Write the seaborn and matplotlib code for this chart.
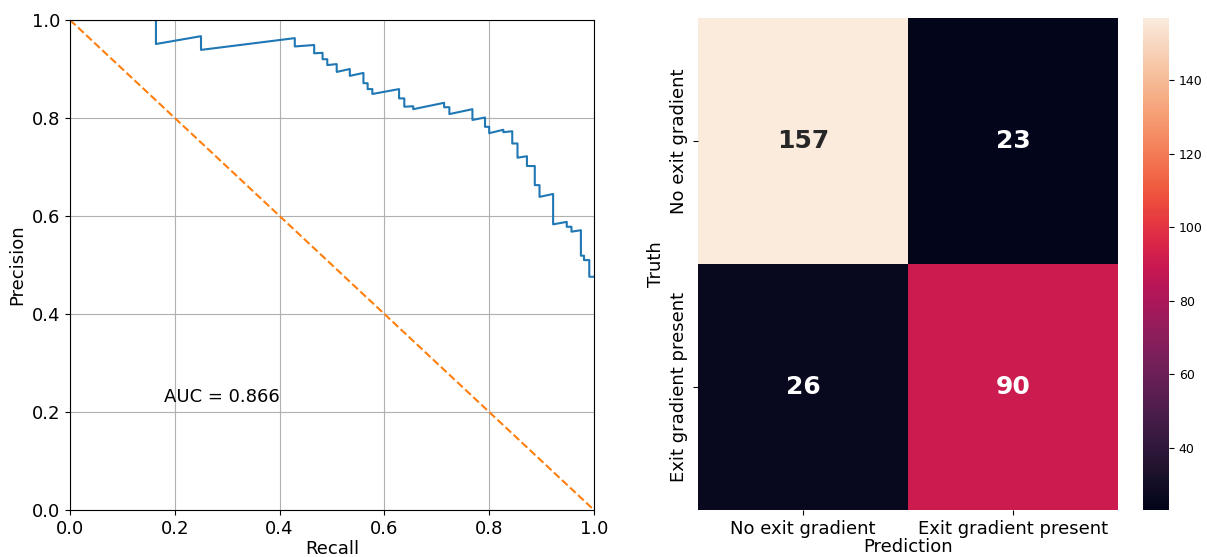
import numpy as np
import pandas as pd
import matplotlib
matplotlib.use("Agg")
import matplotlib.pyplot as plt
import seaborn as sns

# Precision-recall curve vertices
recall = [0.0, 0.164, 0.164, 0.250, 0.250, 0.429, 0.429, 0.466, 0.466, 0.482, 0.482,
          0.491, 0.491, 0.509, 0.509, 0.534, 0.534, 0.560, 0.560, 0.568, 0.568,
          0.577, 0.577, 0.628, 0.628, 0.638, 0.638, 0.655, 0.655, 0.714, 0.714,
          0.724, 0.724, 0.768, 0.768, 0.792, 0.792, 0.800, 0.800, 0.827, 0.827,
          0.844, 0.844, 0.854, 0.854, 0.872, 0.872, 0.887, 0.887, 0.896, 0.896,
          0.922, 0.922, 0.948, 0.948, 0.957, 0.957, 0.975, 0.975, 0.981, 0.981,
          0.991, 0.991, 1.0]
precision = [1.0, 1.0, 0.951, 0.967, 0.939, 0.963, 0.946, 0.949, 0.932, 0.933, 0.920,
             0.920, 0.908, 0.910, 0.894, 0.900, 0.886, 0.892, 0.871, 0.871, 0.859,
             0.859, 0.849, 0.859, 0.840, 0.840, 0.823, 0.824, 0.818, 0.831, 0.822,
             0.822, 0.808, 0.818, 0.796, 0.801, 0.782, 0.782, 0.769, 0.776, 0.771,
             0.773, 0.748, 0.748, 0.719, 0.722, 0.702, 0.702, 0.663, 0.663, 0.639,
             0.645, 0.583, 0.588, 0.578, 0.578, 0.568, 0.571, 0.519, 0.519, 0.510,
             0.510, 0.476, 0.476]
baseline_x = [0.0, 1.0]
baseline_y = [1.0, 0.0]
auc_text = "AUC = 0.866"

# Confusion matrix
class_labels = ["No exit gradient", "Exit gradient present"]
cm_row0 = [157, 23]
cm_row1 = [26, 90]

fig = plt.figure(figsize=(12.07, 5.57), dpi=100)
W, H = 1207, 557
ax1 = fig.add_axes([70 / W, (H - 510) / H, 524 / W, 490 / H])
ax2 = fig.add_axes([698 / W, (H - 510) / H, 420 / W, 492 / H])
cax = fig.add_axes([1143 / W, (H - 510) / H, 26 / W, 492 / H])

FS = 13

# Left: PR curve
sns.lineplot(x=recall, y=precision, sort=False, estimator=None, ax=ax1,
             color="#1f77b4", linewidth=1.5)
sns.lineplot(x=baseline_x, y=baseline_y, sort=False, estimator=None, ax=ax1,
             color="#ff7f0e", linewidth=1.5, linestyle="--")
ax1.set_xlim(0, 1)
ax1.set_ylim(0, 1)
ax1.set_xticks(np.arange(0, 1.01, 0.2))
ax1.set_yticks(np.arange(0, 1.01, 0.2))
ax1.grid(True, color="#b0b0b0", linewidth=0.8)
ax1.set_axisbelow(True)
ax1.tick_params(labelsize=FS)
ax1.set_xlabel("Recall", fontsize=FS, labelpad=2)
ax1.set_ylabel("Precision", fontsize=FS)
ax1.text(0.18, 0.22, auc_text, fontsize=FS)

# Right: confusion matrix heatmap
cm = pd.DataFrame([cm_row0, cm_row1], index=class_labels, columns=class_labels)
sns.heatmap(cm, annot=True, fmt="d", annot_kws={"size": 18, "weight": "bold"},
            ax=ax2, cbar_ax=cax)
ax2.tick_params(labelsize=FS)
ax2.set_yticklabels(class_labels, rotation=90, va="center", fontsize=FS)
ax2.set_xticklabels(class_labels, rotation=0, fontsize=FS)
ax2.set_xlabel("Prediction", fontsize=FS, labelpad=0)
ax2.set_ylabel("Truth", fontsize=FS)
cax.tick_params(labelsize=9)

fig.savefig("out.png", dpi=100)
